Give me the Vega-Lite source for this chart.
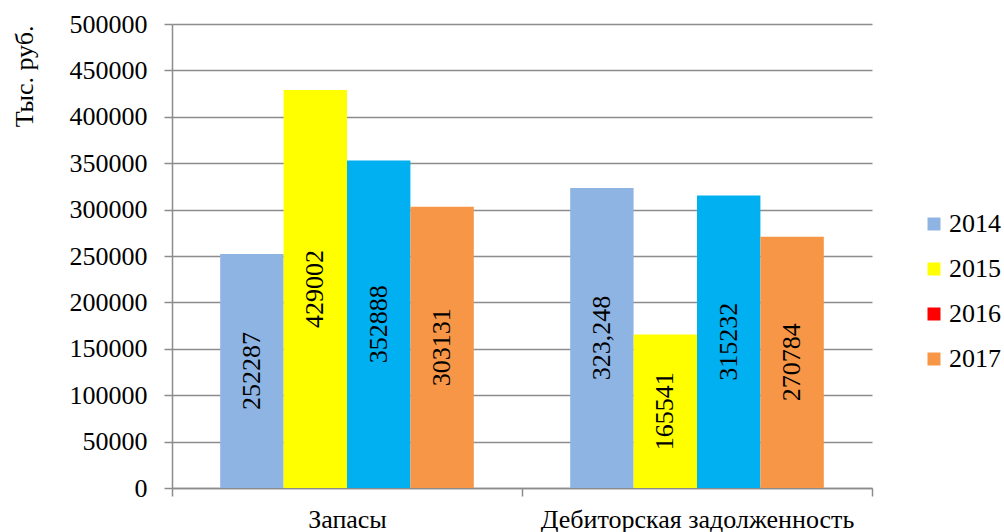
{
  "$schema": "https://vega.github.io/schema/vega-lite/v6.json",
  "width": 700,
  "height": 464,
  "autosize": {"type": "none"},
  "padding": {"left": 172, "top": 24, "right": 132, "bottom": 44},
  "background": "white",
  "config": {"view": {"stroke": null}, "font": "Liberation Serif"},
  "data": {
    "values": [
      {"category": "Запасы", "year": "2014", "value": 252287, "label": "252287"},
      {"category": "Запасы", "year": "2015", "value": 429002, "label": "429002"},
      {"category": "Запасы", "year": "2016", "value": 352888, "label": "352888"},
      {"category": "Запасы", "year": "2017", "value": 303131, "label": "303131"},
      {"category": "Дебиторская задолженность", "year": "2014", "value": 323248, "label": "323,248"},
      {"category": "Дебиторская задолженность", "year": "2015", "value": 165541, "label": "165541"},
      {"category": "Дебиторская задолженность", "year": "2016", "value": 315232, "label": "315232"},
      {"category": "Дебиторская задолженность", "year": "2017", "value": 270784, "label": "270784"}
    ]
  },
  "encoding": {
    "x": {
      "field": "category",
      "type": "nominal",
      "sort": ["Запасы", "Дебиторская задолженность"],
      "scale": {"paddingInner": 0, "paddingOuter": 0},
      "axis": {
        "title": null,
        "labelAngle": 0,
        "labelFontSize": 26,
        "labelFont": "Liberation Serif",
        "labelColor": "black",
        "labelLimit": 0,
        "labelPadding": 10,
        "tickBand": "extent",
        "tickSize": 8,
        "tickColor": "#8c8c8c",
        "tickWidth": 1.5,
        "domainColor": "#8c8c8c",
        "domainWidth": 1.5
      }
    },
    "xOffset": {
      "field": "year",
      "type": "nominal",
      "scale": {"paddingInner": 0, "paddingOuter": 0.76}
    }
  },
  "layer": [
    {
      "mark": {"type": "bar"},
      "encoding": {
        "y": {
          "field": "value",
          "type": "quantitative",
          "title": "Тыс. руб.",
          "scale": {"domain": [0, 500000]},
          "axis": {
            "values": [0, 50000, 100000, 150000, 200000, 250000, 300000, 350000, 400000, 450000, 500000],
            "format": "d",
            "grid": true,
            "gridColor": "#8c8c8c",
            "gridWidth": 1.5,
            "tickSize": 8,
            "tickColor": "#8c8c8c",
            "tickWidth": 1.5,
            "domainColor": "#8c8c8c",
            "domainWidth": 1.5,
            "labelPadding": 17,
            "labelFontSize": 26,
            "labelFont": "Liberation Serif",
            "labelColor": "black",
            "titleFont": "Liberation Serif",
            "titleFontSize": 26,
            "titleFontWeight": "normal",
            "titleColor": "black",
            "titleX": -148,
            "titleY": 1,
            "titleAngle": -90,
            "titleAlign": "right",
            "titleBaseline": "middle"
          }
        },
        "color": {
          "field": "year",
          "type": "nominal",
          "scale": {
            "domain": ["2014", "2015", "2016", "2017"],
            "range": ["#8EB4E3", "#FFFF00", "#00B0F0", "#F79646"]
          },
          "legend": null
        }
      }
    },
    {
      "transform": [{"calculate": "datum.value / 2", "as": "mid"}],
      "mark": {
        "type": "text",
        "angle": 270,
        "align": "center",
        "baseline": "middle",
        "fontSize": 26,
        "font": "Liberation Serif",
        "color": "black"
      },
      "encoding": {
        "y": {"field": "mid", "type": "quantitative", "title": "Тыс. руб."},
        "text": {"field": "label"}
      }
    },
    {
      "mark": {"type": "square", "opacity": 0},
      "encoding": {
        "y": {"field": "value", "type": "quantitative", "title": "Тыс. руб."},
        "color": {
          "field": "year",
          "type": "nominal",
          "scale": {
            "domain": ["2014", "2015", "2016", "2017"],
            "range": ["#8EB4E3", "#FFFF00", "#FF0000", "#F79646"]
          },
          "legend": {
            "orient": "none",
            "legendX": 749,
            "legendY": 187,
            "title": null,
            "padding": 0,
            "labelFontSize": 26,
            "labelFont": "Liberation Serif",
            "labelColor": "black",
            "labelLimit": 0,
            "symbolType": "square",
            "symbolSize": 169,
            "symbolOpacity": 1,
            "symbolStrokeWidth": 0,
            "labelOffset": 2,
            "rowPadding": 19
          }
        }
      }
    }
  ],
  "resolve": {"scale": {"color": "independent"}}
}
